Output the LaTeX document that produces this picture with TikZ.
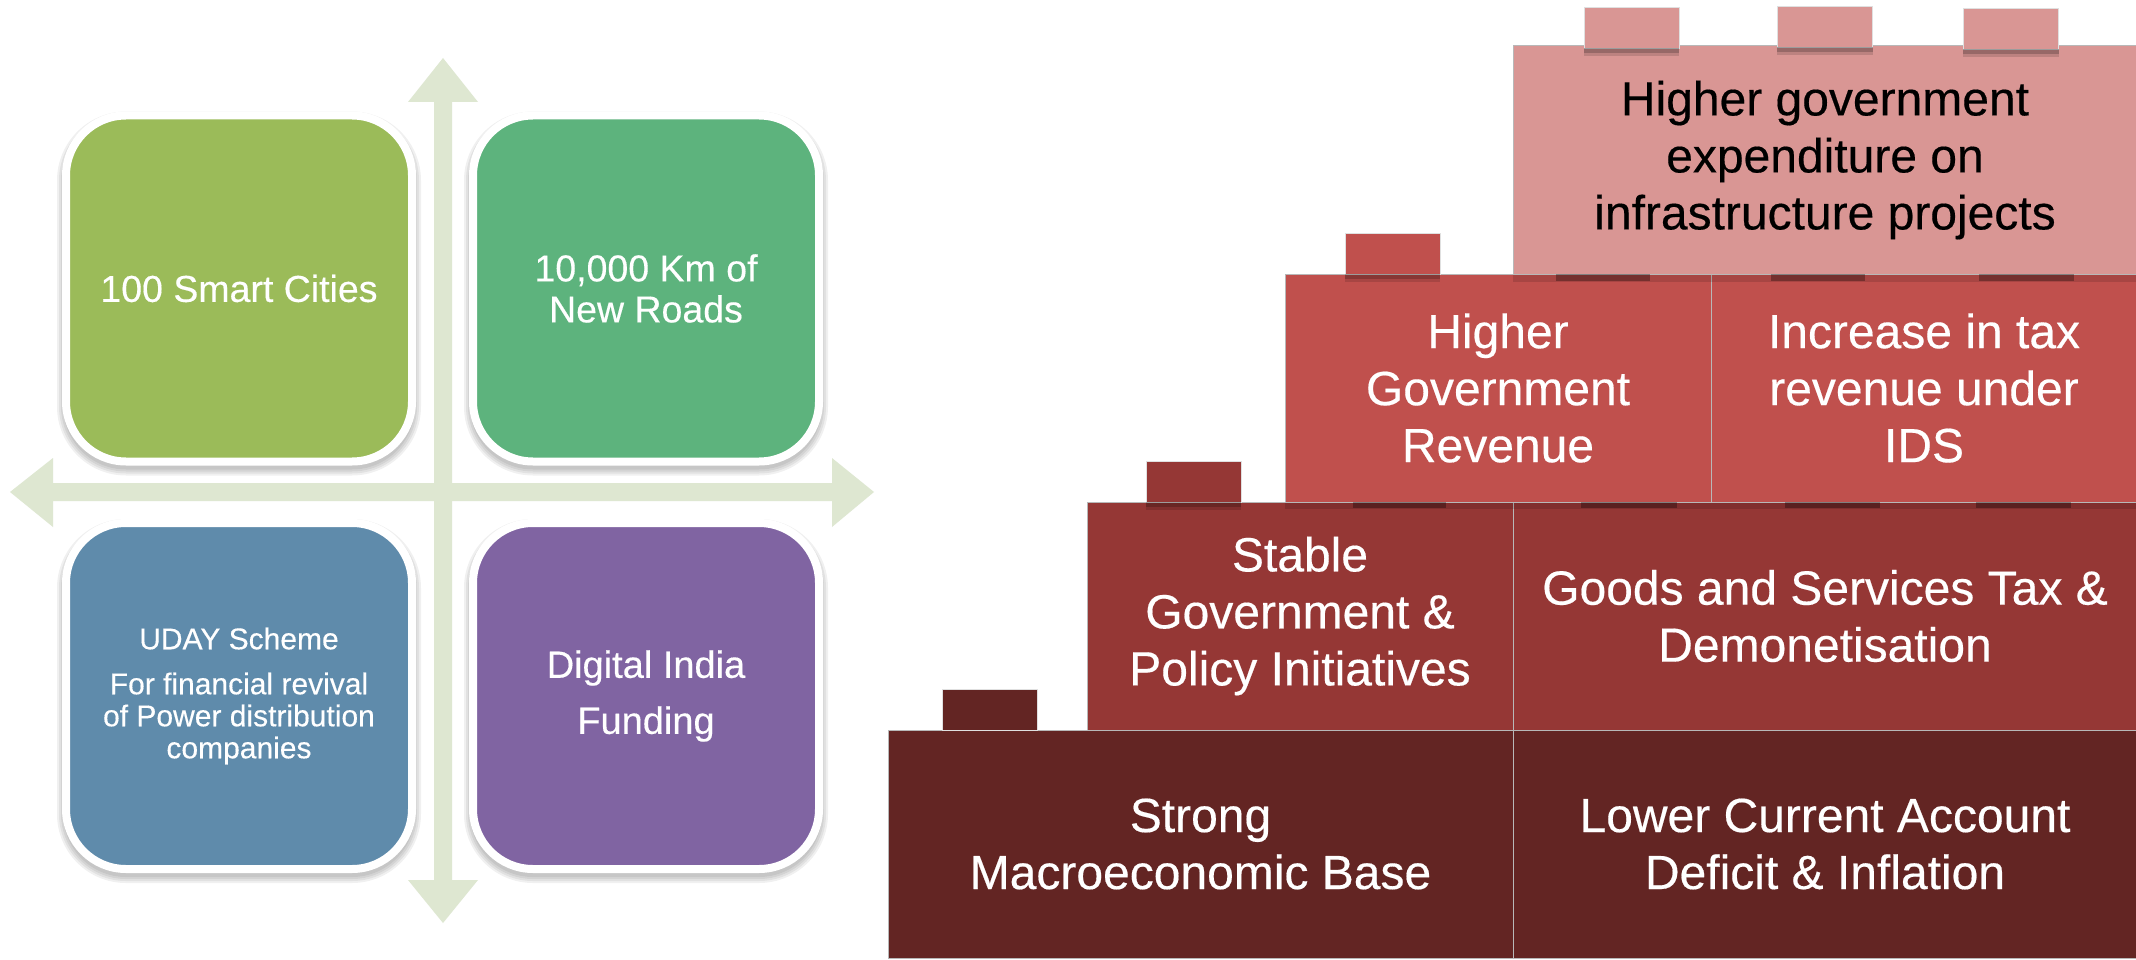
\documentclass[tikz,border=0pt]{standalone}
\usepackage{fontspec}
\setmainfont{Liberation Sans}[FakeBold=0.35]
\usetikzlibrary{calc}
\definecolor{axisgreen}{HTML}{DEE7D1}
\definecolor{qgreen}{HTML}{9BBB59}
\definecolor{qteal}{HTML}{5DB37D}
\definecolor{qblue}{HTML}{5F8BAB}
\definecolor{qpurple}{HTML}{8064A2}
\definecolor{brickA}{HTML}{D99694}
\definecolor{brickB}{HTML}{C0504D}
\definecolor{brickC}{HTML}{953735}
\definecolor{brickD}{HTML}{632523}
\begin{document}
\begin{tikzpicture}[x=1pt,y=-1pt,
  quad/.style={rounded corners=60pt, minimum width=346pt, minimum height=346pt,
    draw=white, line width=8pt, text=white, align=center, inner sep=0pt},
  brick/.style={draw=black!28, line width=1pt, minimum height=228pt, inner sep=0pt,
    text=white, align=center, font=\fontsize{48}{57}\selectfont},
  stud/.style={draw=black!12, line width=0.8pt, minimum width=95pt, minimum height=41pt, inner sep=0pt},
  lightshade/.style={black, opacity=0.13},
  darkshade/.style={black, opacity=0.30}]
\useasboundingbox (0,0) rectangle (2136,960);
\fill[white] (0,0) rectangle (2136,960);

% ---------- crossed double arrows ----------
\coordinate (axc) at (443,492);
\fill[axisgreen] (434,102) -- (408,102) -- (443,58) -- (478,102) -- (452,102)
  -- (452,880) -- (478,880) -- (443,923) -- (408,880) -- (434,880) -- cycle;
\fill[axisgreen] (53,483) -- (53,458) -- (10,492) -- (53,527) -- (53,501)
  -- (832,501) -- (832,527) -- (874,492) -- (832,458) -- (832,483) -- cycle;

% ---------- soft shadows of the four tiles ----------
\foreach \cx/\cy in {239/288.5, 646/288.5, 239/696, 646/696}{
  \foreach \g/\r in {-1/63pt, 1/65pt, 3/67pt, 5/69pt}{
    \fill[black, opacity=0.06, rounded corners=\r]
      (\cx-177-\g, \cy-177-\g+5) rectangle (\cx+177+\g, \cy+177+\g+5);
  }
}

% ---------- four tiles ----------
\node[quad, fill=qgreen, font=\fontsize{37.5}{41}\selectfont] (q1) at (239,288.5)
  {100 Smart Cities};
\node[quad, fill=qteal, font=\fontsize{37.5}{41}\selectfont] (q2) at (646,288.5)
  {10,000 Km of\\New Roads};
\node[quad, fill=qblue, font=\fontsize{30}{32}\selectfont] (q3) at (239,696)
  {UDAY Scheme\\[13pt]For financial revival\\of Power distribution\\companies};
\node[quad, fill=qpurple, font=\fontsize{38}{44}\selectfont] (q4) at (646,696)
  {Digital India\\[12pt]Funding};

% ---------- brick wall ----------
% bottom row
\node[brick, fill=brickD, minimum width=625pt] (d1) at (1200.5,844)
  {Strong\\Macroeconomic Base};
\node[brick, fill=brickD, minimum width=624pt] (d2) at (1825,844)
  {Lower Current Account\\Deficit \& Inflation};
% third row
\node[brick, fill=brickC, minimum width=426pt] (c1) at (1300,616)
  {Stable\\Government \&\\Policy Initiatives};
\node[brick, fill=brickC, minimum width=624pt] (c2) at (1825,616)
  {Goods and Services Tax \&\\Demonetisation};
% second row
\node[brick, fill=brickB, minimum width=426pt] (b1) at (1498,388)
  {Higher\\Government\\Revenue};
\node[brick, fill=brickB, minimum width=426pt] (b2) at (1924,388)
  {Increase in tax\\revenue under\\IDS};
% top row
\node[brick, fill=brickA, minimum width=624pt, text=black] (a1) at (1825,160)
  {Higher government\\expenditure on\\infrastructure projects};

% shade cast by the second row onto the third
\fill[lightshade] (b1.south west) rectangle ($(b2.south east)+(0,6)$);
\foreach \xa/\xb in {1353/1446, 1581/1677, 1785/1880, 1976/2071}{
  \fill[darkshade] (\xa,502) rectangle (\xb,508);
}
% shade cast by the top row onto the second
\fill[lightshade] (a1.south west) rectangle ($(a1.south east)+(0,7)$);
\foreach \xa/\xb in {1556/1650, 1771/1865, 1979/2074}{
  \fill[darkshade] (\xa,274) rectangle (\xb,281);
}

% ---------- studs ----------
\node[stud, fill=brickD] (sd) at (989.5,709.5) {};
\node[stud, fill=brickC] (sc) at (1193.5,481.5) {};
\node[stud, fill=brickB] (sb) at (1392.5,253.5) {};
\node[stud, fill=brickA] (sa1) at (1631.5,27.5) {};
\node[stud, fill=brickA] (sa2) at (1825,26.5) {};
\node[stud, fill=brickA] (sa3) at (2011,28.5) {};

% stud shadows on the brick below each stud
\foreach \s in {sc, sb, sa1, sa2, sa3}{
  \fill[darkshade] (\s.south west) rectangle ($(\s.south east)+(0,5)$);
  \fill[lightshade] ($(\s.south west)+(0,5)$) rectangle ($(\s.south east)+(0,8)$);
}
\end{tikzpicture}
\end{document}
